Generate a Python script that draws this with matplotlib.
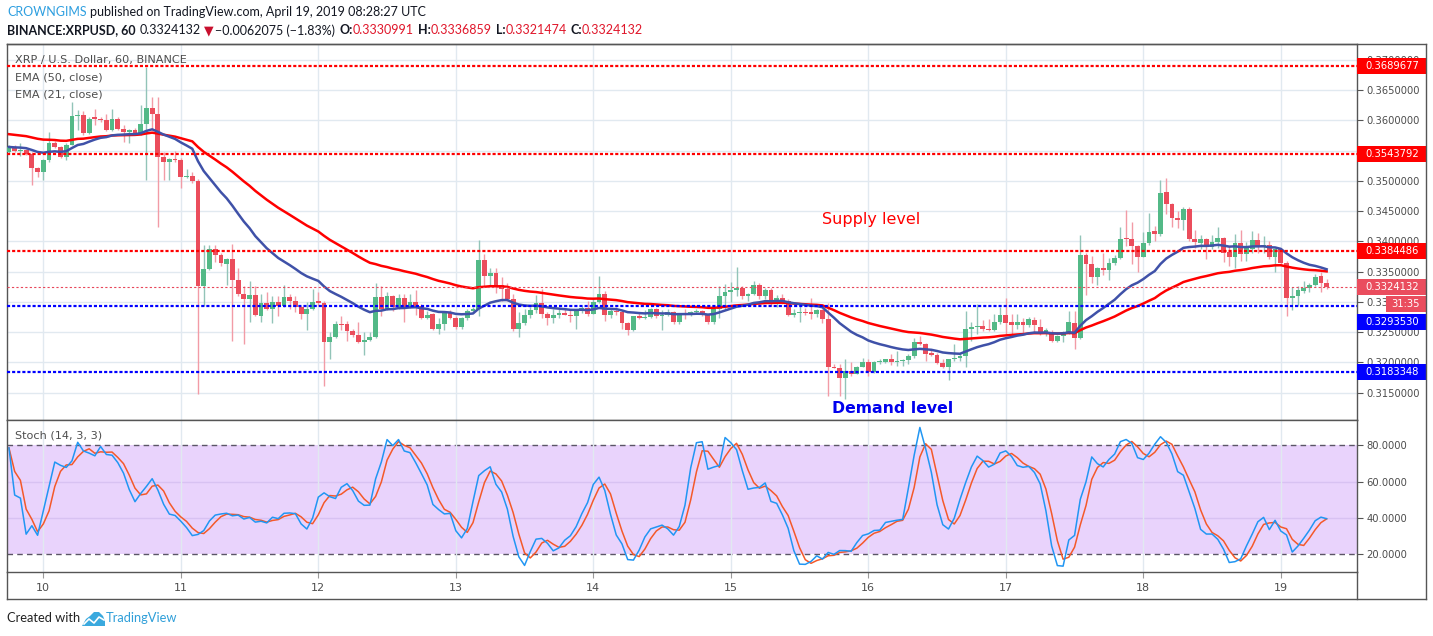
import matplotlib
matplotlib.use("Agg")
import matplotlib.pyplot as plt
import matplotlib.transforms as mtransforms
from matplotlib.lines import Line2D
from matplotlib.patches import Rectangle, Polygon
from matplotlib.ticker import FormatStrFormatter
import numpy as np
import pandas as pd

# ─── data: XRPUSD 1h candles, hours counted from 2019-04-10 00:00 UTC ─────────
first_hour = -6
opens = [
    .3548, .3556, .3549, .3551, .3545, .3521, .3515, .3534, .3563, .3556, .3540, .3560,
    .3607, .3609, .3579, .3605, .3603, .3600, .3584, .3603, .3586, .3580, .3584, .3578,
    .3594, .3621, .3611, .3540, .3531, .3536, .3534, .3506, .3508, .3499, .3326, .3354,
    .3387, .3378, .3363, .3371, .3336, .3313, .3304, .3312, .3276, .3298, .3288, .3300,
    .3293, .3308, .3302, .3291, .3280, .3288, .3301, .3298, .3234, .3242, .3264, .3264,
    .3252, .3245, .3233, .3237, .3242, .3308, .3289, .3310, .3291, .3306, .3292, .3300,
    .3294, .3273, .3280, .3256, .3263, .3281, .3274, .3258, .3273, .3285, .3289, .3370,
    .3342, .3348, .3328, .3322, .3304, .3255, .3265, .3278, .3287, .3298, .3280, .3274,
    .3278, .3281, .3279, .3276, .3285, .3290, .3280, .3300, .3313, .3278, .3285, .3283,
    .3265, .3254, .3276, .3273, .3275, .3289, .3276, .3278, .3283, .3266, .3282, .3279,
    .3283, .3285, .3279, .3266, .3289, .3310, .3317, .3320, .3323, .3309, .3313, .3328,
    .3310, .3320, .3299, .3307, .3302, .3278, .3281, .3284, .3283, .3280, .3286, .3272,
    .3193, .3191, .3174, .3186, .3181, .3193, .3201, .3184, .3200, .3200, .3205, .3200,
    .3202, .3204, .3211, .3233, .3230, .3216, .3213, .3199, .3192, .3205, .3208, .3210,
    .3256, .3258, .3260, .3256, .3253, .3266, .3278, .3266, .3262, .3267, .3261, .3270,
    .3258, .3247, .3251, .3235, .3244, .3250, .3265, .3241, .3377, .3363, .3341, .3356,
    .3353, .3364, .3373, .3405, .3404, .3392, .3375, .3397, .3417, .3412, .3482, .3461,
    .3439, .3436, .3453, .3404, .3398, .3404, .3391, .3399, .3405, .3382, .3375, .3397,
    .3379, .3387, .3402, .3390, .3394, .3375, .3387, .3364, .3306, .3310, .3318, .3323,
    .3328, .3342, .3331,
]
highs = [
    .3559, .3560, .3562, .3553, .3548, .3523, .3536, .3580, .3566, .3558, .3562, .3630,
    .3617, .3615, .3605, .3618, .3606, .3610, .3618, .3606, .3592, .3586, .3587, .3625,
    .3689, .3639, .3639, .3548, .3538, .3549, .3537, .3520, .3515, .3503, .3394, .3394,
    .3394, .3380, .3373, .3396, .3356, .3327, .3335, .3327, .3313, .3316, .3309, .3310,
    .3328, .3313, .3310, .3293, .3299, .3321, .3316, .3301, .3250, .3268, .3277, .3268,
    .3255, .3267, .3250, .3251, .3331, .3327, .3317, .3312, .3313, .3313, .3313, .3319,
    .3296, .3285, .3282, .3274, .3284, .3286, .3276, .3275, .3289, .3292, .3403, .3379,
    .3356, .3356, .3341, .3331, .3313, .3283, .3289, .3292, .3311, .3321, .3283, .3289,
    .3289, .3290, .3287, .3287, .3294, .3302, .3305, .3343, .3318, .3289, .3291, .3287,
    .3266, .3277, .3282, .3287, .3290, .3290, .3287, .3289, .3285, .3282, .3289, .3285,
    .3289, .3286, .3280, .3292, .3326, .3330, .3333, .3358, .3327, .3315, .3335, .3331,
    .3323, .3323, .3311, .3313, .3304, .3289, .3294, .3290, .3306, .3289, .3289, .3298,
    .3197, .3197, .3205, .3200, .3194, .3208, .3205, .3203, .3206, .3206, .3214, .3219,
    .3206, .3214, .3240, .3244, .3232, .3221, .3215, .3205, .3206, .3230, .3216, .3285,
    .3267, .3296, .3270, .3272, .3280, .3292, .3307, .3280, .3280, .3274, .3275, .3275,
    .3271, .3257, .3253, .3246, .3252, .3285, .3285, .3410, .3380, .3376, .3358, .3380,
    .3372, .3377, .3424, .3452, .3432, .3394, .3416, .3447, .3426, .3502, .3505, .3463,
    .3451, .3456, .3456, .3418, .3411, .3406, .3410, .3423, .3407, .3393, .3412, .3418,
    .3399, .3417, .3414, .3409, .3401, .3388, .3389, .3368, .3324, .3327, .3335, .3332,
    .3346, .3350, .3337,
]
lows = [
    .3545, .3547, .3541, .3543, .3493, .3506, .3501, .3532, .3554, .3538, .3534, .3559,
    .3584, .3576, .3577, .3593, .3597, .3582, .3582, .3584, .3564, .3562, .3576, .3576,
    .3501, .3586, .3424, .3501, .3501, .3532, .3488, .3504, .3497, .3148, .3294, .3352,
    .3366, .3360, .3328, .3236, .3310, .3230, .3267, .3276, .3267, .3286, .3265, .3276,
    .3291, .3288, .3283, .3271, .3253, .3286, .3294, .3161, .3206, .3240, .3253, .3236,
    .3242, .3232, .3213, .3235, .3240, .3277, .3287, .3285, .3289, .3266, .3290, .3278,
    .3272, .3271, .3253, .3247, .3253, .3272, .3256, .3256, .3270, .3281, .3276, .3327,
    .3328, .3315, .3301, .3301, .3252, .3242, .3262, .3274, .3281, .3273, .3262, .3265,
    .3273, .3278, .3267, .3255, .3281, .3277, .3280, .3298, .3269, .3274, .3278, .3255,
    .3246, .3252, .3271, .3272, .3273, .3274, .3254, .3276, .3264, .3264, .3272, .3277,
    .3281, .3277, .3264, .3263, .3273, .3289, .3300, .3310, .3305, .3301, .3311, .3305,
    .3305, .3293, .3291, .3296, .3277, .3275, .3267, .3278, .3272, .3275, .3265, .3145,
    .3190, .3145, .3140, .3178, .3180, .3192, .3177, .3183, .3197, .3199, .3196, .3194,
    .3194, .3197, .3207, .3228, .3203, .3211, .3197, .3190, .3171, .3203, .3203, .3193,
    .3236, .3247, .3252, .3252, .3252, .3264, .3245, .3242, .3255, .3249, .3258, .3250,
    .3245, .3243, .3233, .3233, .3233, .3247, .3222, .3238, .3312, .3332, .3328, .3344,
    .3336, .3361, .3371, .3393, .3363, .3350, .3374, .3394, .3401, .3409, .3445, .3424,
    .3422, .3418, .3401, .3389, .3388, .3371, .3387, .3389, .3366, .3360, .3356, .3368,
    .3368, .3380, .3381, .3380, .3371, .3349, .3363, .3276, .3286, .3294, .3315, .3317,
    .3327, .3317, .3321,
]
closes = [
    .3556, .3549, .3551, .3545, .3521, .3515, .3534, .3563, .3556, .3540, .3560, .3607,
    .3609, .3579, .3602, .3603, .3600, .3584, .3603, .3586, .3580, .3584, .3578, .3594,
    .3621, .3611, .3540, .3531, .3536, .3534, .3506, .3508, .3499, .3326, .3354, .3387,
    .3378, .3364, .3371, .3336, .3313, .3304, .3312, .3278, .3298, .3288, .3300, .3293,
    .3308, .3302, .3291, .3280, .3288, .3299, .3298, .3234, .3242, .3264, .3262, .3252,
    .3245, .3233, .3237, .3242, .3308, .3289, .3310, .3291, .3306, .3292, .3300, .3294,
    .3273, .3278, .3256, .3263, .3281, .3274, .3258, .3273, .3285, .3289, .3370, .3342,
    .3348, .3325, .3322, .3304, .3255, .3265, .3278, .3287, .3298, .3280, .3274, .3278,
    .3281, .3279, .3276, .3285, .3290, .3280, .3300, .3313, .3278, .3285, .3283, .3265,
    .3254, .3276, .3273, .3275, .3289, .3276, .3278, .3283, .3266, .3280, .3279, .3283,
    .3285, .3279, .3266, .3289, .3310, .3317, .3320, .3323, .3309, .3313, .3328, .3310,
    .3320, .3299, .3307, .3302, .3278, .3281, .3284, .3281, .3280, .3286, .3272, .3193,
    .3191, .3174, .3186, .3181, .3193, .3201, .3184, .3200, .3202, .3205, .3200, .3202,
    .3204, .3211, .3233, .3230, .3214, .3213, .3199, .3192, .3205, .3208, .3210, .3256,
    .3258, .3260, .3255, .3253, .3266, .3278, .3265, .3262, .3267, .3261, .3271, .3262,
    .3247, .3253, .3235, .3244, .3250, .3267, .3241, .3377, .3363, .3341, .3356, .3353,
    .3364, .3373, .3404, .3404, .3392, .3375, .3397, .3416, .3412, .3480, .3461, .3438,
    .3436, .3453, .3404, .3399, .3404, .3392, .3399, .3406, .3381, .3374, .3397, .3379,
    .3389, .3403, .3392, .3394, .3374, .3387, .3364, .3306, .3310, .3319, .3323, .3328,
    .3341, .3331, .3324,
]
# EMA values just before the first visible candle
ema50_seed = 0.3578
ema21_seed = 0.3556

supply_levels = [0.3689677, 0.3543792, 0.3384486]
demand_levels = [0.3293530, 0.3183348]
last_price = 0.3324132
countdown = "31:35"
day_labels = ["10", "11", "12", "13", "14", "15", "16", "17", "18", "19"]
price_ticks = [0.315, 0.320, 0.325, 0.330, 0.335, 0.340, 0.345, 0.350, 0.355, 0.360, 0.365, 0.370]
stoch_ticks = [20, 40, 60, 80]

W, H = 1433, 636
UP, DN = "#53b987", "#eb4d5c"
UP_WICK, DN_WICK = "#92c4b8", "#f29ba6"
GRID = "#e1e9f0"
FRAME = "#555555"
TXT = "#4d4d4d"
FONT = "DejaVu Sans"


def px_rect(x0, y0, x1, y1):
    return [x0 / W, 1 - y1 / H, (x1 - x0) / W, (y1 - y0) / H]


def ema(values, span, seed):
    a = 2.0 / (span + 1)
    out, e = [], seed
    for v in values:
        e = a * v + (1 - a) * e
        out.append(e)
    return np.array(out)


o, hi, lo, c = (np.array(v) for v in (opens, highs, lows, closes))
x = np.arange(len(c)) + first_hour
up = c >= o

# stochastic (14, 3, 3)
hh = pd.Series(hi).rolling(14, min_periods=1).max()
ll = pd.Series(lo).rolling(14, min_periods=1).min()
raw_k = 100 * (pd.Series(c) - ll) / (hh - ll)
stoch_k = raw_k.rolling(3, min_periods=1).mean()
stoch_d = stoch_k.rolling(3, min_periods=1).mean()

fig = plt.figure(figsize=(W / 100, H / 100), dpi=100)
ax = fig.add_axes(px_rect(7, 44, 1357, 420))
axs = fig.add_axes(px_rect(7, 420, 1357, 572), sharex=ax)

x_lo, x_hi = first_hour - 0.34, first_hour + 235.3
day_pos = [24 * i for i in range(len(day_labels))]

# ─── price panel ──────────────────────────────────────────────────────────────
ax.set_xlim(x_lo, x_hi)
ax.set_ylim(0.31048, 0.37262)
ax.set_yticks(price_ticks)
ax.set_xticks(day_pos)
ax.grid(True, color=GRID, lw=1.0, zorder=0)
ax.set_axisbelow(True)

ax.vlines(x[up], lo[up], hi[up], color=UP_WICK, lw=1.0, zorder=3)
ax.vlines(x[~up], lo[~up], hi[~up], color=DN_WICK, lw=1.0, zorder=3)
body = np.maximum(np.abs(c - o), 0.00006)
ax.bar(x, body, bottom=np.minimum(o, c), width=0.84,
       color=np.where(up, UP, DN), linewidth=0, zorder=4)

ax.plot(x, ema(c, 50, ema50_seed), color="#ff0000", lw=1.8, zorder=5)
ax.plot(x, ema(c, 21, ema21_seed), color="#3f51a8", lw=1.8, zorder=5)

for lvl in supply_levels:
    ax.axhline(lvl, color="#ff0000", lw=1.6, ls=(0, (1.4, 0.9)), zorder=6)
for lvl in demand_levels:
    ax.axhline(lvl, color="#0000ff", lw=1.6, ls=(0, (1.4, 0.9)), zorder=6)
ax.axhline(last_price, color="#e8475a", lw=0.8, ls=(0, (2, 2)), zorder=6)

ax.yaxis.tick_right()
ax.yaxis.set_major_formatter(FormatStrFormatter("%.7f"))
ax.tick_params(axis="y", length=4, color=FRAME, labelsize=7.2, labelcolor=TXT, pad=3)
ax.tick_params(axis="x", length=0, labelbottom=False)
for sp in ax.spines.values():
    sp.set_color(FRAME)
    sp.set_linewidth(1.0)

for i, label in enumerate(["XRP / U.S. Dollar, 60, BINANCE", "EMA (50, close)", "EMA (21, close)"]):
    ax.text(8 / 1350, 1 - (16.5 + 17 * i) / 376, label, transform=ax.transAxes,
            fontsize=8.1, color=TXT, family=FONT, va="center", zorder=7)

ax.text(135.9, 0.34362, "Supply level", color="#ff0000", fontsize=11.5, family=FONT,
        va="center", ha="left", zorder=7)
ax.text(137.7, 0.31235, "Demand level", color="#0000ee", fontsize=11.3, family=FONT,
        fontweight="bold", va="center", ha="left", zorder=7)

# price labels on the right scale
col_w = (1426 - 1357) / 1350
box_h = 16 / 6034
blend = mtransforms.blended_transform_factory(ax.transAxes, ax.transData)


def scale_label(value, text, color, dy_px=0.0, x0=1.0, width=col_w, tx=None):
    tr = mtransforms.offset_copy(blend, fig=fig, y=-dy_px, units="dots")
    ax.add_patch(Rectangle((x0, value - box_h / 2), width, box_h, transform=tr,
                           facecolor=color, edgecolor="none", clip_on=False, zorder=10))
    ax.text(x0 + (tx if tx is not None else 8 / 1350), value, text, transform=tr,
            color="white", fontsize=7.2, family=FONT, va="center", ha="left",
            clip_on=False, zorder=11)


for lvl in supply_levels:
    scale_label(lvl, f"{lvl:.7f}", "#ff0000")
scale_label(last_price, f"{last_price:.7f}", "#ea4d5e")
scale_label(last_price, countdown, "#ea4d5e", dy_px=16.5,
            x0=(1385.5 - 7) / 1350, width=(1426 - 1385.5) / 1350, tx=6 / 1350)
scale_label(demand_levels[0], f"{demand_levels[0]:.7f}", "#0000ff", dy_px=16.5)
scale_label(demand_levels[1], f"{demand_levels[1]:.7f}", "#0000ff")

# ─── stochastic panel ─────────────────────────────────────────────────────────
axs.set_ylim(10.3, 93.9)
axs.axhspan(20, 80, color="#e9d3fc", lw=0, zorder=0)
axs.set_yticks(stoch_ticks)
axs.grid(True, axis="x", color=GRID, lw=1.0, zorder=0.5)
for v in (40, 60):
    axs.axhline(v, color="#d8c2f2", lw=1.0, zorder=0.6)
for v in (20, 80):
    axs.axhline(v, color="#5b5566", lw=1.0, ls=(0, (4, 3)), zorder=1)
axs.plot(x, stoch_k, color="#2196f3", lw=1.1, zorder=3)
axs.plot(x, stoch_d, color="#f4592a", lw=1.1, zorder=2.9)
axs.text(8 / 1350, 1 - 16 / 152, "Stoch (14, 3, 3)", transform=axs.transAxes,
         fontsize=8.1, color=TXT, family=FONT, va="center")

axs.yaxis.tick_right()
axs.yaxis.set_major_formatter(FormatStrFormatter("%.4f"))
axs.tick_params(axis="y", length=4, color=FRAME, labelsize=7.2, labelcolor=TXT, pad=3)
axs.set_xticks(day_pos)
axs.set_xticklabels(day_labels)
axs.tick_params(axis="x", length=4, color="#999999", labelsize=8, labelcolor=TXT, pad=4)
for sp in axs.spines.values():
    sp.set_color(FRAME)
    sp.set_linewidth(1.0)

# outer frame (date strip and right scale column)
for (x0, y0, x1, y1) in [(7, 44, 1426, 44), (1426, 44, 1426, 599), (7, 599, 1426, 599),
                         (7, 572, 7, 599), (1357, 572, 1357, 599)]:
    fig.add_artist(Line2D([x0 / W, x1 / W], [1 - y0 / H, 1 - y1 / H], color=FRAME, lw=1.0))

# ─── header and footer ────────────────────────────────────────────────────────
renderer = fig.canvas.get_renderer()


def text_run(pieces, x_px, y_px, size, family=("Lato", "DejaVu Sans")):
    xp = x_px
    for s, col, weight, gap in pieces:
        t = fig.text(xp / W, 1 - y_px / H, s, color=col, fontsize=size, fontweight=weight,
                     family=list(family), va="center", ha="left")
        xp += t.get_window_extent(renderer=renderer).width + gap
    return xp


RED = "#e0172b"
BLK = "#131722"
text_run([("CROWNGIMS", "#2e9fe0", "normal", 3),
          ("published on TradingView.com, April 19, 2019 08:28:27 UTC", BLK, "normal", 0)],
         7, 12.5, 9.0)
text_run([("BINANCE:XRPUSD, 60", BLK, "bold", 4),
          ("0.3324132", BLK, "normal", 3),
          ("\u25bc", "#c8102e", "normal", 2),
          ("\u22120.0062075 (\u22121.83%)", BLK, "normal", 4),
          ("O:", BLK, "bold", 0), ("0.3330991", RED, "normal", 4),
          ("H:", BLK, "bold", 0), ("0.3336859", RED, "normal", 4),
          ("L:", BLK, "bold", 0), ("0.3321474", RED, "normal", 4),
          ("C:", BLK, "bold", 0), ("0.3324132", RED, "normal", 0)],
         7, 30.5, 9.0)

# footer: "Created with" + small logo + "TradingView"
text_run([("Created with", "#222222", "normal", 0)], 7, 618.5, 9.3)
cloud = [(0, 16), (4, 9), (8, 6), (12, 2), (17, 2), (21, 6), (23, 11), (23, 16)]
fig.add_artist(Polygon([((82 + px) / W, 1 - (610 + py) / H) for px, py in cloud],
                       closed=True, facecolor="#3aa9de", edgecolor="none"))
zig = [(2, 14), (7, 9), (12, 13), (17, 7), (22, 10)]
fig.add_artist(Line2D([(82 + px) / W for px, py in zig], [1 - (610 + py) / H for px, py in zig],
                      color="white", lw=1.2))
text_run([("TradingView", "#2f9fd9", "normal", 0)], 106, 618.5, 9.3)

fig.savefig("out.png", dpi=100)
